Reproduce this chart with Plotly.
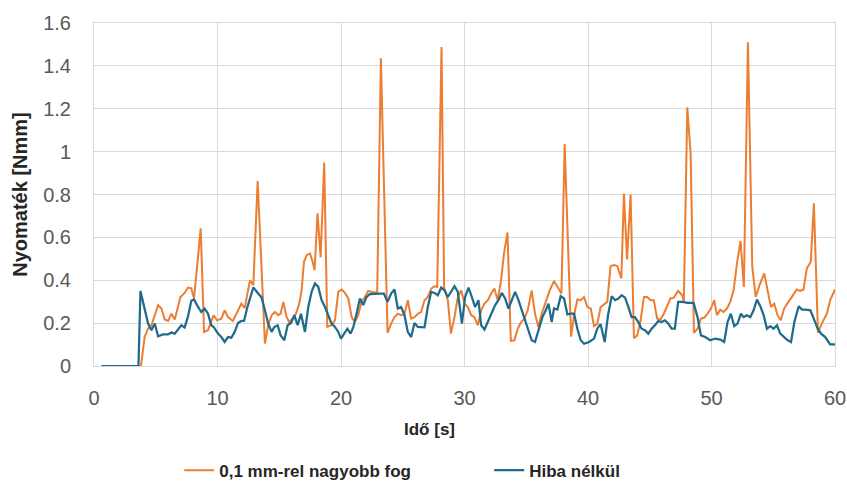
import plotly.graph_objects as go

# ---- data ----
orange_t = [0.6, 3.8, 4.1, 4.38, 4.65, 4.92, 5.19, 5.46, 5.73, 6.0, 6.27, 6.54, 7.0, 7.34, 7.6, 7.88, 8.1, 8.64, 8.91, 9.23,
            9.42, 9.69, 9.96, 10.31, 10.58, 10.85, 11.25, 11.58, 11.93, 12.2, 12.63, 12.9, 13.25, 13.84, 14.1, 14.38, 14.65, 14.92, 15.11, 15.33,
            15.6, 15.81, 16.08, 16.35, 16.62, 16.81, 17.0, 17.22, 17.49, 17.7, 17.86, 18.1, 18.35, 18.64, 18.89, 19.24, 19.51, 19.78, 20.05, 20.32,
            20.59, 20.86, 21.12, 21.39, 21.66, 21.93, 22.2, 22.47, 22.74, 22.93, 23.23, 23.77, 24.06, 24.33, 24.6, 24.87, 25.14, 25.41, 25.68, 25.95,
            26.22, 26.49, 26.76, 27.03, 27.3, 27.57, 27.79, 28.14, 28.35, 28.65, 28.9, 29.19, 29.46, 29.73, 30.0, 30.27, 30.54, 30.81, 31.08, 31.35,
            31.62, 31.89, 32.16, 32.42, 32.69, 32.96, 33.2, 33.48, 33.75, 34.04, 34.31, 34.58, 34.85, 35.12, 35.44, 35.71, 35.98, 36.25, 36.58, 36.9,
            37.25, 37.52, 37.85, 38.11, 38.63, 38.87, 39.14, 39.41, 39.68, 39.95, 40.22, 40.49, 40.75, 41.02, 41.29, 41.56, 41.83, 42.1, 42.37, 42.7,
            42.91, 43.16, 43.45, 43.72, 43.99, 44.26, 44.53, 44.8, 45.07, 45.33, 45.6, 45.87, 46.14, 46.41, 46.68, 46.95, 47.3, 47.63, 47.76, 48.04,
            48.31, 48.58, 48.87, 49.14, 49.41, 49.68, 49.95, 50.22, 50.44, 50.71, 50.98, 51.25, 51.52, 51.79, 52.06, 52.35, 52.62, 52.95, 53.3, 53.58,
            53.89, 54.27, 54.54, 54.81, 55.08, 55.35, 55.61, 55.88, 56.23, 56.58, 56.91, 57.18, 57.45, 57.72, 58.04, 58.29, 58.62, 58.93, 59.34, 59.61,
            60.0]
orange_v = [0, 0, 0.135, 0.175, 0.19, 0.237, 0.284, 0.268, 0.217, 0.21, 0.244, 0.217, 0.322, 0.341, 0.366, 0.362, 0.315, 0.642, 0.159, 0.167,
            0.198, 0.237, 0.213, 0.221, 0.26, 0.228, 0.21, 0.252, 0.291, 0.27, 0.40, 0.377, 0.863, 0.105, 0.19, 0.237, 0.252, 0.237, 0.244, 0.299,
            0.228, 0.205, 0.221, 0.244, 0.291, 0.353, 0.486, 0.517, 0.525, 0.486, 0.447, 0.712, 0.507, 0.949, 0.183, 0.19, 0.213, 0.346, 0.357, 0.341,
            0.315, 0.228, 0.205, 0.237, 0.299, 0.322, 0.35, 0.346, 0.341, 0.341, 1.436, 0.154, 0.198, 0.228, 0.244, 0.237, 0.244, 0.307, 0.221, 0.228,
            0.244, 0.252, 0.307, 0.322, 0.361, 0.372, 0.369, 1.488, 0.365, 0.307, 0.151, 0.228, 0.322, 0.353, 0.291, 0.275, 0.237, 0.228, 0.19, 0.26,
            0.291, 0.307, 0.338, 0.361, 0.307, 0.40, 0.525, 0.623, 0.117, 0.12, 0.174, 0.205, 0.221, 0.26, 0.353, 0.244, 0.182, 0.244, 0.299, 0.353,
            0.397, 0.369, 0.338, 1.036, 0.137, 0.237, 0.31, 0.307, 0.322, 0.275, 0.268, 0.186, 0.195, 0.275, 0.288, 0.299, 0.466, 0.471, 0.466, 0.408,
            0.805, 0.497, 0.80, 0.13, 0.143, 0.213, 0.322, 0.322, 0.307, 0.307, 0.221, 0.217, 0.244, 0.284, 0.315, 0.319, 0.35, 0.33, 0.30, 1.207,
            0.99, 0.155, 0.174, 0.221, 0.226, 0.244, 0.268, 0.307, 0.237, 0.263, 0.252, 0.268, 0.299, 0.353, 0.478, 0.584, 0.369, 1.51, 0.463, 0.322,
            0.377, 0.432, 0.361, 0.275, 0.291, 0.237, 0.213, 0.268, 0.299, 0.326, 0.357, 0.35, 0.357, 0.455, 0.486, 0.759, 0.155, 0.198, 0.244, 0.307,
            0.357]

blue_t = [0.6, 3.6, 3.76, 4.11, 4.38, 4.65, 4.92, 5.19, 5.59, 6.0, 6.27, 6.54, 6.8, 7.07, 7.34, 7.6, 7.88, 8.1, 8.34, 8.69,
          8.96, 9.23, 9.5, 9.69, 10.04, 10.31, 10.58, 10.85, 11.12, 11.39, 11.66, 11.93, 12.15, 12.42, 12.9, 13.3, 13.57, 13.84, 14.1, 14.38,
          14.6, 14.87, 15.11, 15.41, 15.68, 15.95, 16.22, 16.49, 16.76, 17.08, 17.35, 17.62, 17.89, 18.16, 18.43, 18.7, 18.97, 19.24, 19.51, 19.78,
          20.0, 20.26, 20.51, 20.78, 21.0, 21.26, 21.53, 21.8, 22.07, 22.34, 22.74, 23.15, 23.47, 23.77, 24.06, 24.33, 24.6, 24.87, 25.14, 25.41,
          25.68, 25.95, 26.22, 26.49, 26.76, 27.03, 27.3, 27.57, 27.84, 28.11, 28.38, 28.65, 28.92, 29.19, 29.46, 29.79, 30.05, 30.32, 30.59, 30.86,
          31.13, 31.35, 31.62, 31.89, 32.21, 32.48, 32.75, 33.02, 33.29, 33.56, 33.83, 34.1, 34.37, 34.64, 34.91, 35.17, 35.44, 35.71, 36.04, 36.31,
          36.58, 36.8, 37.06, 37.25, 37.52, 37.79, 38.06, 38.33, 38.6, 38.87, 39.14, 39.41, 39.68, 40.09, 40.49, 40.75, 41.02, 41.35, 41.62, 41.92,
          42.19, 42.46, 42.73, 43.0, 43.27, 43.53, 43.8, 44.07, 44.34, 44.61, 44.88, 45.15, 45.42, 45.69, 45.96, 46.23, 46.5, 46.77, 47.03, 47.3,
          47.63, 48.07, 48.55, 48.87, 49.14, 49.49, 49.9, 50.3, 50.71, 51.03, 51.3, 51.57, 51.84, 52.11, 52.38, 52.6, 52.87, 53.14, 53.41, 53.68,
          53.95, 54.22, 54.49, 54.76, 55.03, 55.3, 55.57, 55.84, 56.17, 56.44, 56.71, 57.06, 57.33, 57.6, 58.01, 58.33, 58.6, 58.87, 59.21, 59.61,
          60.0]
blue_v = [0, 0, 0.35, 0.26, 0.198, 0.167, 0.198, 0.139, 0.147, 0.148, 0.156, 0.151, 0.17, 0.19, 0.18, 0.229, 0.304, 0.31, 0.284, 0.252,
          0.268, 0.244, 0.19, 0.182, 0.151, 0.135, 0.112, 0.135, 0.132, 0.159, 0.201, 0.21, 0.21, 0.275, 0.366, 0.341, 0.319, 0.26, 0.198, 0.159,
          0.182, 0.19, 0.143, 0.12, 0.19, 0.201, 0.237, 0.19, 0.244, 0.159, 0.275, 0.346, 0.385, 0.369, 0.307, 0.275, 0.237, 0.198, 0.182, 0.159,
          0.128, 0.151, 0.174, 0.151, 0.182, 0.244, 0.315, 0.284, 0.322, 0.335, 0.338, 0.338, 0.338, 0.299, 0.338, 0.357, 0.268, 0.275, 0.237, 0.159,
          0.135, 0.201, 0.182, 0.182, 0.18, 0.275, 0.346, 0.341, 0.33, 0.366, 0.353, 0.322, 0.35, 0.372, 0.346, 0.198, 0.322, 0.366, 0.322, 0.275,
          0.307, 0.19, 0.17, 0.205, 0.244, 0.284, 0.307, 0.341, 0.315, 0.268, 0.307, 0.346, 0.307, 0.26, 0.213, 0.159, 0.12, 0.112, 0.174, 0.228,
          0.26, 0.291, 0.205, 0.268, 0.263, 0.326, 0.315, 0.241, 0.244, 0.244, 0.174, 0.12, 0.104, 0.112, 0.128, 0.174, 0.195, 0.112, 0.237, 0.326,
          0.307, 0.315, 0.33, 0.319, 0.275, 0.228, 0.228, 0.205, 0.174, 0.167, 0.151, 0.174, 0.19, 0.21, 0.205, 0.213, 0.198, 0.174, 0.174, 0.299,
          0.299, 0.294, 0.294, 0.228, 0.143, 0.135, 0.12, 0.128, 0.123, 0.112, 0.205, 0.244, 0.186, 0.198, 0.244, 0.228, 0.237, 0.228, 0.26, 0.31,
          0.279, 0.237, 0.174, 0.186, 0.174, 0.19, 0.151, 0.135, 0.12, 0.112, 0.205, 0.279, 0.263, 0.263, 0.26, 0.213, 0.174, 0.151, 0.135, 0.101,
          0.101]

series_names = ["0,1 mm-rel nagyobb fog", "Hiba nélkül"]
x_title = "Idő [s]"
y_title = "Nyomaték [Nmm]"

FONT = "Liberation Sans"
ORANGE = "#ED7D31"
BLUE = "#1F6B8C"
GRID = "#D9D9D9"

fig = go.Figure()
fig.add_trace(go.Scatter(x=orange_t, y=orange_v, mode="lines", name=series_names[0],
                         line=dict(color=ORANGE, width=2)))
fig.add_trace(go.Scatter(x=blue_t, y=blue_v, mode="lines", name=series_names[1],
                         line=dict(color=BLUE, width=2.25)))

fig.update_layout(
    width=847, height=488,
    margin=dict(l=94, r=12, t=23, b=122, autoexpand=False),
    paper_bgcolor="white", plot_bgcolor="white",
    font=dict(family=FONT, color="#262626"),
    showlegend=True,
    legend=dict(orientation="h", x=0.115, xanchor="left", y=-0.305, yanchor="middle",
                font=dict(family=FONT, size=17, color="#262626", weight="bold"),
                entrywidth=265, entrywidthmode="pixels", bgcolor="rgba(0,0,0,0)"),
    annotations=[dict(text="<b>" + x_title + "</b>", xref="paper", yref="paper",
                      x=0.453, y=-0.185, xanchor="center", yanchor="middle", showarrow=False,
                      font=dict(family=FONT, size=17, color="#262626"))],
)
fig.update_xaxes(range=[0, 60], dtick=10, tick0=0, showgrid=True, gridcolor=GRID, gridwidth=1,
                 zeroline=False, showline=True, linecolor=GRID, mirror=True, ticks="",
                 ticklabelstandoff=14,
                 tickfont=dict(family=FONT, size=20, color="#595959"))
fig.update_yaxes(range=[0, 1.6], dtick=0.2, tick0=0, showgrid=True, gridcolor=GRID, gridwidth=1,
                 zeroline=False, showline=True, linecolor=GRID, mirror=True, ticks="",
                 ticklabelstandoff=18,
                 tickfont=dict(family=FONT, size=20, color="#595959"),
                 title=dict(text="<b>" + y_title + "</b>", standoff=10,
                            font=dict(family=FONT, size=20, color="#262626")))

fig.write_html("out.html")
